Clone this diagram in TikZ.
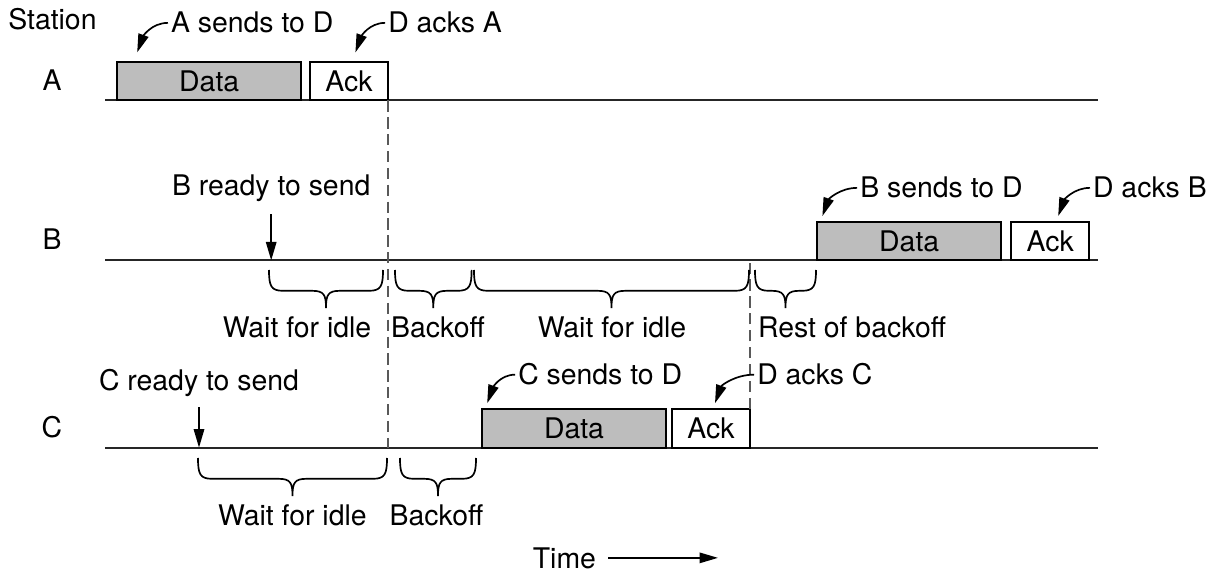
\documentclass[tikz,border=0pt]{standalone}
\usepackage{fontspec}
\setmainfont{TeX Gyre Heros}
\usetikzlibrary{arrows.meta}

\tikzset{
  frame/.style={draw, line width=1.3pt, minimum height=0.97cm, inner sep=0pt, outer sep=0pt, anchor=south west},
  databox/.style={frame, fill=black!26, minimum width=4.6cm},
  ackbox/.style={frame, fill=white, minimum width=1.95cm},
  txt/.style={inner sep=0pt, anchor=base},
  txtw/.style={inner sep=0pt, anchor=base west},
  tline/.style={line width=1.4pt, black!85},
  idle/.style={line width=1.4pt, black!65, dash pattern=on 8pt off 4pt},
  brc/.style={line width=1.2pt},
  note/.style={->, line width=1.2pt},
}

% brace under a time line: x start, x end, y top
\newcommand{\tbrace}[3]{%
  \draw [brc] (#1,#3) .. controls (#1,{#3-0.4}) and ({#1+0.05},{#3-0.52}) .. ({#1+0.35},{#3-0.52})
    -- ({(#1+#2)/2-0.35},{#3-0.52})
    .. controls ({(#1+#2)/2-0.05},{#3-0.52}) and ({(#1+#2)/2},{#3-0.62}) .. ({(#1+#2)/2},{#3-0.95})
    .. controls ({(#1+#2)/2},{#3-0.62}) and ({(#1+#2)/2+0.05},{#3-0.52}) .. ({(#1+#2)/2+0.35},{#3-0.52})
    -- ({#2-0.35},{#3-0.52})
    .. controls ({#2-0.05},{#3-0.52}) and (#2,{#3-0.4}) .. (#2,#3);}

\begin{document}
\begin{tikzpicture}[>={Triangle[length=4.6mm,width=2.6mm]}, every node/.style={font=\fontsize{20.2}{24}\selectfont}]

\useasboundingbox (0,0) rectangle (30.5,-14.325);

%lineas
\coordinate (A0) at (2.63,-2.51);
\coordinate (A1) at (27.45,-2.51);
\coordinate (B0) at (2.63,-6.51);
\coordinate (B1) at (27.45,-6.51);
\coordinate (C0) at (2.63,-11.19);
\coordinate (C1) at (27.45,-11.19);
\draw [tline] (A0) -- (A1);
\draw [tline] (B0) -- (B1);
\draw [tline] (C0) -- (C1);

%frames
\node [databox] (dataA) at (2.93,-2.51) {Data};
\node [ackbox] (ackA) at (7.75,-2.51) {Ack};
\node [databox] (dataB) at (20.43,-6.51) {Data};
\node [ackbox] (ackB) at (25.28,-6.51) {Ack};
\node [databox] (dataC) at (12.05,-11.19) {Data};
\node [ackbox] (ackC) at (16.8,-11.19) {Ack};

\draw [idle] (ackA.south east) -- (ackA.south east |- C0);
\draw [idle] (ackC.north east) -- (ackC.north east |- B0);

%nodes
\node [txtw] (station) at (0.2,-0.75) {Station};
\node [txt] (stA) at (1.3,-2.275) {A};
\node [txt] (stB) at (1.3,-6.25) {B};
\node [txt] (stC) at (1.3,-10.95) {C};

\node [txtw] (sendA) at (4.27,-0.825) {A sends to D};
\node [txtw] (ackdA) at (9.7,-0.825) {D acks A};
\node [txt] (rdyB) at (6.78,-4.9) {B ready to send};
\node [txtw] (sendB) at (21.5,-4.95) {B sends to D};
\node [txtw] (ackdB) at (27.32,-4.95) {D acks B};
\node [txt] (rdyC) at (4.975,-9.775) {C ready to send};
\node [txtw] (sendC) at (12.95,-9.625) {C sends to D};
\node [txtw] (ackdC) at (18.925,-9.625) {D acks C};

\node [txt] (waitB1) at (7.425,-8.45) {Wait for idle};
\node [txt] (backB) at (10.95,-8.45) {Backoff};
\node [txt] (waitB2) at (15.3,-8.45) {Wait for idle};
\node [txt] (restB) at (21.3,-8.45) {Rest of backoff};
\node [txt] (waitC) at (7.31,-13.125) {Wait for idle};
\node [txt] (backC) at (10.91,-13.125) {Backoff};
\node [txt] (time) at (14.11,-14.2) {Time};
\coordinate (tEnd) at (17.95,-13.95);

%arrows
\draw [note] ([xshift=-2pt]sendA.west) to[out=180,in=70] ([shift={(0.5cm,0.23cm)}]dataA.north west);
\draw [note] ([xshift=-2pt]ackdA.west) to[out=180,in=70] ([shift={(0.16cm,0.23cm)}]ackA.north);
\draw [note] ([xshift=-2pt]sendB.west) to[out=180,in=70] ([shift={(0.13cm,0.14cm)}]dataB.north west);
\draw [note] ([xshift=-2pt]ackdB.west) to[out=180,in=70] ([shift={(0.2cm,0.14cm)}]ackB.north);
\draw [note] ([xshift=-2pt]sendC.west) to[out=180,in=70] ([shift={(0.13cm,0.14cm)}]dataC.north west);
\draw [note] ([xshift=-2pt]ackdC.west) to[out=180,in=70] ([shift={(0.1cm,0.14cm)}]ackC.north);
\draw [note] ([yshift=-0.3cm]rdyB.south) -- (rdyB.south |- B0);
\draw [note] ([yshift=-0.25cm]rdyC.south) -- (rdyC.south |- C0);
\draw [note] ([xshift=0.3cm]time.east) -- (time.east -| tEnd);

%braces
\tbrace{6.725}{9.575}{-6.75}
\tbrace{9.875}{11.79}{-6.75}
\tbrace{11.85}{18.725}{-6.75}
\tbrace{18.875}{20.4}{-6.75}
\tbrace{4.95}{9.675}{-11.45}
\tbrace{10.0}{11.9}{-11.45}

\end{tikzpicture}
\end{document}
